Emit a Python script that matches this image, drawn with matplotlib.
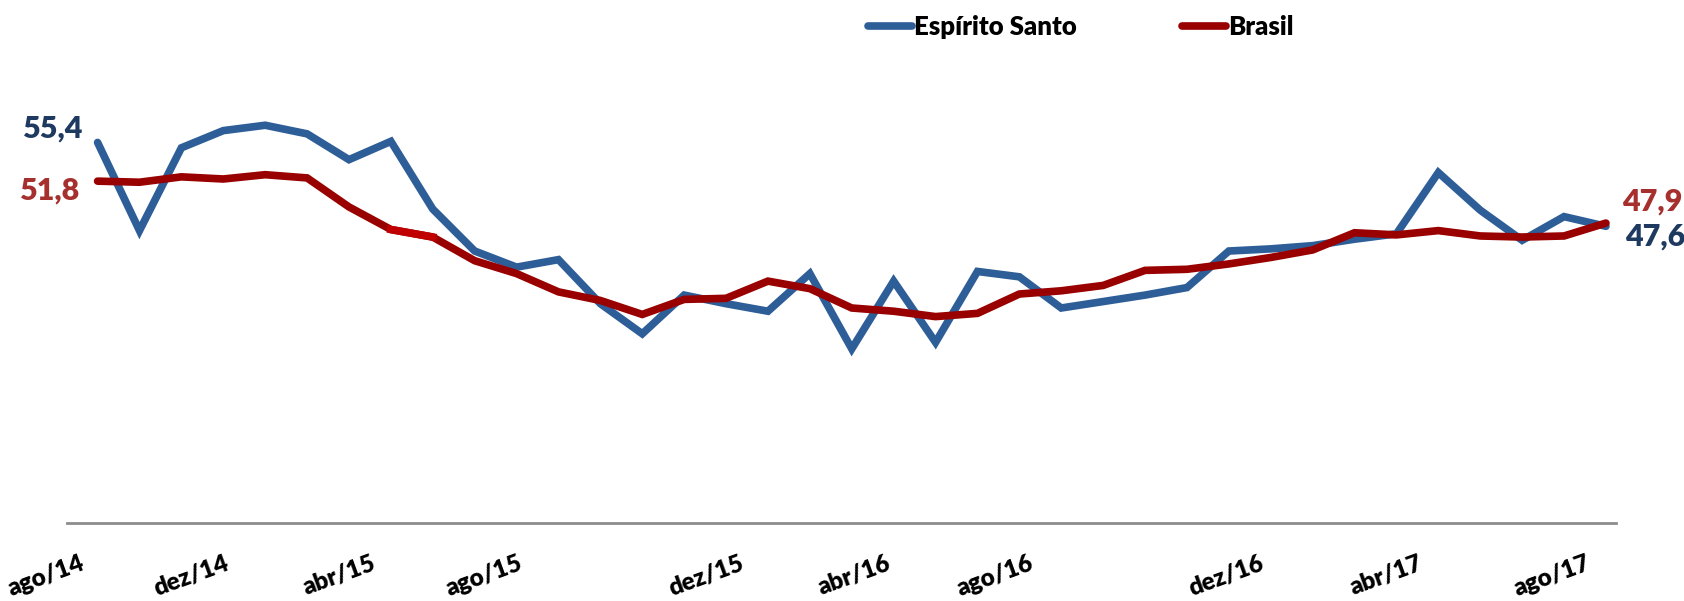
import matplotlib.pyplot as plt

meses = ['ago/14', 'set/14', 'out/14', 'nov/14', 'dez/14', 'jan/15', 'fev/15', 'mar/15',
         'abr/15', 'mai/15', 'jun/15', 'jul/15', 'ago/15', 'set/15', 'out/15', 'nov/15',
         'dez/15', 'jan/16', 'fev/16', 'mar/16', 'abr/16', 'mai/16', 'jun/16', 'jul/16',
         'ago/16', 'set/16', 'out/16', 'nov/16', 'dez/16', 'jan/17', 'fev/17', 'mar/17',
         'abr/17', 'mai/17', 'jun/17', 'jul/17', 'ago/17']

espirito_santo = [55.4, 47.2, 54.9, 56.5, 57.0, 56.2, 53.8, 55.5, 49.2, 45.3,
                  43.8, 44.5, 40.4, 37.6, 41.2, 40.4, 39.7, 43.2, 36.2, 42.5,
                  36.8, 43.4, 42.9, 40.0, 40.6, 41.2, 41.9, 45.3, 45.5, 45.8,
                  46.4, 46.9, 52.6, 49.1, 46.3, 48.5, 47.6]

brasil = [51.8, 51.7, 52.2, 52.0, 52.4, 52.1, 49.4, 47.3, 46.6, 44.4,
          43.2, 41.5, 40.7, 39.4, 40.8, 40.9, 42.5, 41.8, 40.0, 39.7,
          39.2, 39.5, 41.3, 41.6, 42.1, 43.5, 43.6, 44.1, 44.7, 45.4,
          47.0, 46.8, 47.2, 46.7, 46.6, 46.7, 47.9]

# rotulos do eixo (posicoes como no grafico original)
rotulos = ['ago/14', 'dez/14', 'abr/15', 'ago/15', 'dez/15', 'abr/16',
           'ago/16', 'dez/16', 'abr/17', 'ago/17']
pos_rotulos = [-0.25, 3.2, 6.7, 10.2, 15.5, 19.0, 22.4, 27.9, 31.7, 35.7]

azul = '#2E5E98'
vermelho = '#990000'
fonte = 'Lato'

x = list(range(len(meses)))

fig = plt.figure(figsize=(16.84, 6.01), dpi=100)
ax = fig.add_axes([67 / 1684, 78 / 601, (1616 - 67) / 1684, 0.7602])

ax.plot(x, espirito_santo, color=azul, linewidth=5.5, label='Espírito Santo',
        solid_capstyle='round', solid_joinstyle='miter', zorder=2)
ax.plot(x, brasil, color=vermelho, linewidth=5.5, label='Brasil',
        solid_capstyle='round', solid_joinstyle='miter', zorder=3)
ax.plot(x[7:9], brasil[7:9], color='#C00000', linewidth=5.5, zorder=3)

ax.set_xlim(-0.73, 36.24)
ax.set_ylim(20, 62.5)

for lado in ['top', 'right', 'left']:
    ax.spines[lado].set_visible(False)
ax.spines['bottom'].set_color('#8c8c8c')
ax.spines['bottom'].set_linewidth(2)
ax.set_yticks([])
ax.set_xticks(pos_rotulos)
ax.set_xticklabels(rotulos, rotation=20, ha='right', fontsize=17.5,
                   fontweight='heavy', family=fonte)
ax.tick_params(axis='x', length=0, pad=21)


def fmt(v):
    return f'{v:.1f}'.replace('.', ',')


rotulo = dict(textcoords='offset pixels', va='center', fontsize=22,
              fontweight='heavy', family=fonte)
ax.annotate(fmt(espirito_santo[0]), xy=(x[0], espirito_santo[0]), xytext=(-14, 14),
            ha='right', color='#1F3A60', **rotulo)
ax.annotate(fmt(brasil[0]), xy=(x[0], brasil[0]), xytext=(-17, -9),
            ha='right', color='#A5302E', **rotulo)
ax.annotate(fmt(brasil[-1]), xy=(x[-1], brasil[-1]), xytext=(16, 22),
            ha='left', color='#A5302E', **rotulo)
ax.annotate(fmt(espirito_santo[-1]), xy=(x[-1], espirito_santo[-1]), xytext=(19, -10),
            ha='left', color='#1F3A60', **rotulo)

fig.legend(loc='center', bbox_to_anchor=(1081 / 1684, 1 - 27 / 601), ncol=2,
           frameon=False, handlelength=1.7, handletextpad=0.1, columnspacing=4.1,
           prop={'family': fonte, 'weight': 'heavy', 'size': 18.5})

fig.savefig('out.png', dpi=100)
